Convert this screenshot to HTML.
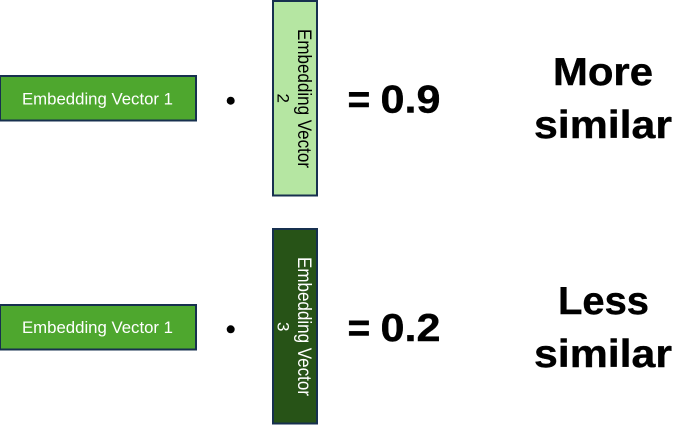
<!DOCTYPE html>
<html>
<head>
<meta charset="utf-8">
<style>
html,body{margin:0;padding:0;background:#fff;width:700px;height:425px;overflow:hidden}
svg{display:block}
text{font-family:"Liberation Sans",sans-serif}
.b{font-weight:bold;fill:#000;font-size:39px;stroke:#000;stroke-width:.4px}
.s{font-size:17px}
.v{font-size:19px}
</style>
</head>
<body>
<svg width="700" height="425" viewBox="0 0 700 425" xmlns="http://www.w3.org/2000/svg">
<rect x="0" y="76" width="196" height="44.500" fill="#4ea72e" stroke="#17304f" stroke-width="2"/>
<text class="s" x="22" y="104.300" fill="#fff" textLength="151" lengthAdjust="spacingAndGlyphs">Embedding Vector 1</text>
<circle cx="230.700" cy="100.700" r="4" fill="#000"/>
<rect x="273" y="1" width="44" height="194.500" fill="#b5e6a2" stroke="#17304f" stroke-width="2"/>
<text class="v" transform="translate(298,29) rotate(90)" fill="#000" textLength="139" lengthAdjust="spacingAndGlyphs">Embedding Vector</text>
<text class="s" transform="translate(277.500,93.500) rotate(90)" fill="#000">2</text>
<text class="b" x="347.500" y="112.500">=</text>
<text class="b" x="380.500" y="112.500" textLength="60" lengthAdjust="spacingAndGlyphs">0.9</text>
<text class="b" x="553" y="85" textLength="100" lengthAdjust="spacingAndGlyphs">More</text>
<text class="b" x="534" y="138" textLength="138" lengthAdjust="spacingAndGlyphs">similar</text>

<rect x="0" y="305" width="196" height="44.500" fill="#4ea72e" stroke="#17304f" stroke-width="2"/>
<text class="s" x="22" y="333" fill="#fff" textLength="151" lengthAdjust="spacingAndGlyphs">Embedding Vector 1</text>
<circle cx="230.700" cy="329.300" r="4" fill="#000"/>
<rect x="273" y="229" width="44" height="194.500" fill="#275317" stroke="#17304f" stroke-width="2"/>
<text class="v" transform="translate(298,257) rotate(90)" fill="#fff" textLength="139" lengthAdjust="spacingAndGlyphs">Embedding Vector</text>
<text class="s" transform="translate(277.500,322) rotate(90)" fill="#fff">3</text>
<text class="b" x="347.500" y="341">=</text>
<text class="b" x="380.500" y="341" textLength="60" lengthAdjust="spacingAndGlyphs">0.2</text>
<text class="b" x="558" y="314" textLength="91" lengthAdjust="spacingAndGlyphs">Less</text>
<text class="b" x="534" y="367" textLength="138" lengthAdjust="spacingAndGlyphs">similar</text>
</svg>
</body>
</html>
